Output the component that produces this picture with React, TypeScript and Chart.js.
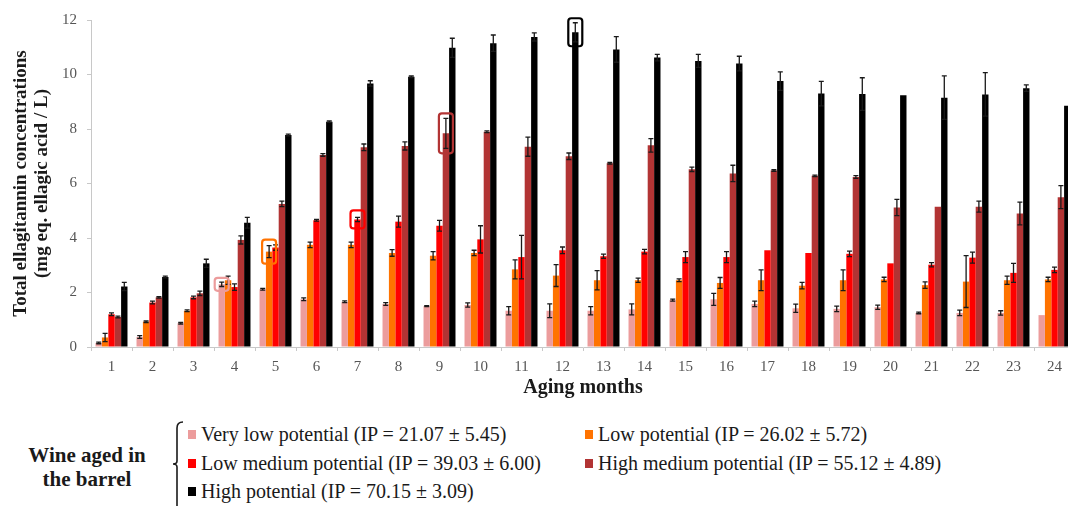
import React, { useEffect, useRef } from 'react';
import { Chart, registerables } from 'chart.js';

Chart.register(...registerables);

const months = ['1', '2', '3', '4', '5', '6', '7', '8', '9', '10', '11', '12', '13', '14', '15', '16', '17', '18', '19', '20', '21', '22', '23', '24'];

const veryLow = [0.15, 0.37, 0.87, 2.3, 2.12, 1.75, 1.66, 1.58, 1.5, 1.54, 1.33, 1.33, 1.33, 1.38, 1.72, 1.75, 1.58, 1.42, 1.4, 1.46, 1.25, 1.25, 1.25, 1.17];
const low = [0.35, 0.93, 1.33, 2.45, 3.5, 3.75, 3.75, 3.45, 3.35, 3.45, 2.85, 2.62, 2.45, 2.45, 2.45, 2.35, 2.45, 2.25, 2.45, 2.48, 2.27, 2.4, 2.45, 2.48];
const lowMedium = [1.2, 1.63, 1.82, 2.2, 3.65, 4.65, 4.68, 4.6, 4.45, 3.95, 3.3, 3.55, 3.33, 3.5, 3.3, 3.3, 3.55, 3.45, 3.42, 3.07, 3.02, 3.28, 2.72, 2.83];
const highMedium = [1.1, 1.82, 1.97, 3.93, 5.25, 7.05, 7.33, 7.38, 7.84, 7.9, 7.35, 7.0, 6.74, 7.4, 6.52, 6.37, 6.48, 6.28, 6.24, 5.12, 5.15, 5.15, 4.9, 5.5];
const high = [2.22, 2.57, 3.07, 4.56, 7.78, 8.27, 9.67, 9.92, 10.98, 11.15, 11.38, 11.55, 10.92, 10.62, 10.5, 10.4, 9.76, 9.3, 9.28, 9.24, 9.15, 9.27, 9.5, 8.85];

const errVeryLow = [0.03, 0.05, 0.03, 0.08, 0.03, 0.05, 0.03, 0.05, 0.02, 0.08, 0.15, 0.25, 0.15, 0.2, 0.04, 0.22, 0.1, 0.15, 0.1, 0.08, 0.03, 0.1, 0.08, 0];
const errLow = [0.15, 0.03, 0.03, 0.15, 0.22, 0.1, 0.1, 0.12, 0.15, 0.1, 0.35, 0.4, 0.35, 0.08, 0.05, 0.2, 0.38, 0.12, 0.38, 0.08, 0.12, 0.95, 0.15, 0.08];
const errLowMedium = [0.05, 0.05, 0.05, 0.12, 0.1, 0.03, 0.08, 0.2, 0.2, 0.5, 0.8, 0.12, 0.08, 0.08, 0.2, 0.2, 0, 0, 0.1, 0, 0.08, 0.2, 0.35, 0.1];
const errHighMedium = [0.03, 0.03, 0.08, 0.15, 0.1, 0.05, 0.12, 0.15, 0.55, 0.03, 0.35, 0.12, 0.03, 0.25, 0.08, 0.3, 0.03, 0.03, 0.05, 0.3, 0, 0.2, 0.42, 0.42];
const errHigh = [0.15, 0.03, 0.15, 0.2, 0.03, 0.03, 0.1, 0.03, 0.35, 0.3, 0.15, 0.35, 0.47, 0.12, 0.24, 0.27, 0.34, 0.45, 0.6, 0, 0.8, 0.8, 0.12, 0];

const seriesLabels = [
  'Very low potential (IP = 21.07 ± 5.45)',
  'Low potential (IP = 26.02 ± 5.72)',
  'Low medium potential (IP = 39.03 ± 6.00)',
  'High medium potential (IP = 55.12 ± 4.89)',
  'High potential (IP = 70.15 ± 3.09)',
];

const yTitle = ['Total ellagitannin concentrations', '(mg eq. ellagic acid / L)'];
const xTitle = 'Aging months';
const legendHeading = ['Wine aged in', 'the barrel'];

// highlighted bars: [series index, month index]
const highlighted = [
  [0, 3],
  [1, 4],
  [2, 6],
  [3, 8],
  [4, 11],
];

const colors = ['#EC9C9C', '#FF7300', '#FF0000', '#B23434', '#000000'];
const highlightHeights = [13, 24, 18, 40, 28];

const serif = '"Liberation Serif", "Times New Roman", serif';

const errorBarPlugin = {
  id: 'errorBars',
  afterDatasetsDraw(chart: any) {
    const ctx = chart.ctx;
    const yScale = chart.scales.y;
    const errs = [errVeryLow, errLow, errLowMedium, errHighMedium, errHigh];
    ctx.save();
    ctx.strokeStyle = '#1a1a1a';
    ctx.lineWidth = 1.3;
    chart.data.datasets.forEach((ds: any, i: number) => {
      const meta = chart.getDatasetMeta(i);
      meta.data.forEach((bar: any, j: number) => {
        const e = errs[i][j];
        if (!e) return;
        const v = ds.data[j];
        const yTop = yScale.getPixelForValue(v + e);
        const yBot = yScale.getPixelForValue(v - e);
        const x = bar.x;
        ctx.beginPath();
        ctx.moveTo(x, yTop);
        ctx.lineTo(x, yBot);
        ctx.moveTo(x - 2.5, yTop);
        ctx.lineTo(x + 2.5, yTop);
        ctx.moveTo(x - 2.5, yBot);
        ctx.lineTo(x + 2.5, yBot);
        ctx.stroke();
      });
    });
    ctx.restore();
  },
};

const highlightPlugin = {
  id: 'highlights',
  afterDatasetsDraw(chart: any) {
    const ctx = chart.ctx;
    ctx.save();
    ctx.lineWidth = 2.2;
    highlighted.forEach(([s, m], k) => {
      const bar: any = chart.getDatasetMeta(s).data[m];
      const h = highlightHeights[k];
      const w = 14;
      const x = bar.x - w / 2;
      const y = bar.y - h / 2;
      ctx.strokeStyle = colors[s];
      ctx.beginPath();
      (ctx as any).roundRect(x, y, w, h, 3);
      ctx.stroke();
    });
    ctx.restore();
  },
};

export default function App() {
  const canvasRef = useRef<HTMLCanvasElement | null>(null);

  useEffect(() => {
    if (!canvasRef.current) return;
    const series = [veryLow, low, lowMedium, highMedium, high];
    const chart = new Chart(canvasRef.current, {
      type: 'bar',
      data: {
        labels: months,
        datasets: series.map((d, i) => ({
          label: seriesLabels[i],
          data: d,
          backgroundColor: colors[i],
          borderWidth: 0,
          categoryPercentage: 0.78,
          barPercentage: 1.0,
        })),
      },
      options: {
        animation: false,
        responsive: false,
        devicePixelRatio: 1,
        layout: { padding: { left: 0, right: 15, top: 20, bottom: 0 } },
        plugins: {
          legend: { display: false },
          tooltip: { enabled: false },
        },
        scales: {
          x: {
            grid: {
              display: true,
              drawOnChartArea: false,
              drawTicks: true,
              tickLength: 4,
              color: '#c8c8c8',
              offset: true,
            },
            border: { display: true, color: '#c8c8c8', width: 1 },
            ticks: {
              color: '#555555',
              font: { family: serif, size: 15 },
              padding: 7,
              maxRotation: 0,
              autoSkip: false,
            },
            title: {
              display: true,
              text: xTitle,
              color: '#1a1a1a',
              font: { family: serif, size: 20, weight: 'bold', lineHeight: 1.1 },
              padding: { top: 0, bottom: 1 },
            },
            afterFit(scale: any) {
              scale.height = 53;
            },
          },
          y: {
            min: 0,
            max: 12,
            grid: {
              display: true,
              drawOnChartArea: false,
              drawTicks: true,
              tickLength: 4,
              color: '#c8c8c8',
            },
            border: { display: true, color: '#c8c8c8', width: 1 },
            ticks: {
              stepSize: 2,
              color: '#555555',
              font: { family: serif, size: 15 },
              padding: 10,
            },
            title: {
              display: true,
              text: yTitle,
              color: '#1a1a1a',
              font: { family: serif, size: 19, weight: 'bold', lineHeight: 1.12 },
              padding: { top: 10, bottom: 0 },
            },
            afterFit(scale: any) {
              scale.width = 91;
            },
          },
        },
      },
      plugins: [errorBarPlugin, highlightPlugin],
    });
    return () => chart.destroy();
  }, []);

  const rows = [
    { top: 434, left: 188, idx: 0 },
    { top: 434, left: 585, idx: 1 },
    { top: 463, left: 188, idx: 2 },
    { top: 463, left: 585, idx: 3 },
    { top: 491, left: 188, idx: 4 },
  ];

  return (
    <div
      style={{
        position: 'fixed',
        left: 0,
        top: 0,
        width: 1068,
        height: 506,
        overflow: 'hidden',
        background: '#ffffff',
      }}
    >
      <canvas ref={canvasRef} width={1090} height={400} style={{ position: 'absolute', left: 0, top: 0, width: 1090, height: 400 }} />
      <div
        style={{
          position: 'absolute',
          left: 0,
          width: 174,
          top: 443,
          textAlign: 'center',
          fontFamily: serif,
          fontWeight: 'bold',
          fontSize: 21,
          lineHeight: '24px',
          color: '#1a1a1a',
        }}
      >
        <div>{legendHeading[0]}</div>
        <div>{legendHeading[1]}</div>
      </div>
      <svg style={{ position: 'absolute', left: 168, top: 418 }} width={20} height={90}>
        <path d="M 15 4 Q 9 4 9 10 L 9 43 Q 9 46 5 46 Q 9 46 9 49 L 9 90" fill="none" stroke="#1a1a1a" strokeWidth={1.6} />
      </svg>
      {rows.map((r) => (
        <div
          key={r.idx}
          style={{
            position: 'absolute',
            left: r.left,
            top: r.top - 13,
            height: 26,
            display: 'flex',
            alignItems: 'center',
            whiteSpace: 'nowrap',
            fontFamily: serif,
            fontSize: 20,
            color: '#1a1a1a',
          }}
        >
          <span style={{ display: 'inline-block', width: 8, height: 9, background: colors[r.idx], marginRight: 5 }} />
          <span>{seriesLabels[r.idx]}</span>
        </div>
      ))}
    </div>
  );
}
